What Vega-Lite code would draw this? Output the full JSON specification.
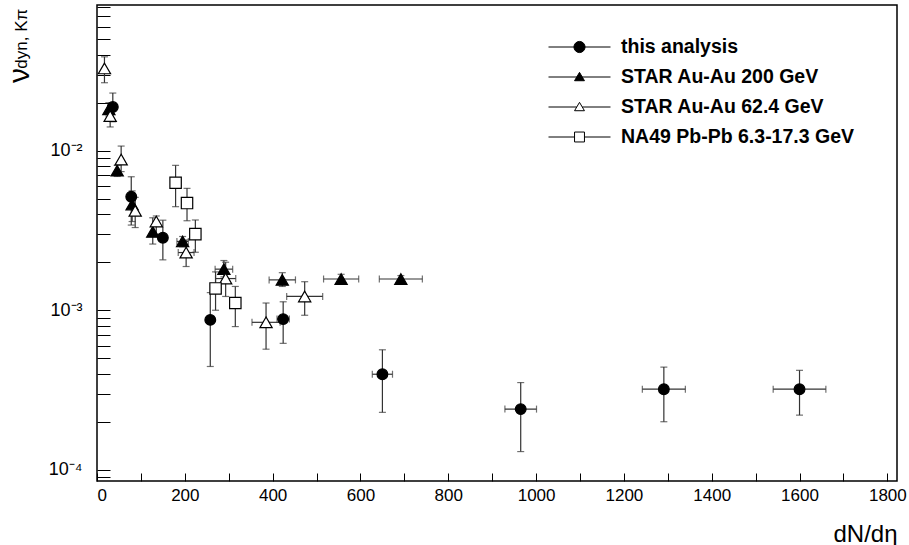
{
  "$schema": "https://vega.github.io/schema/vega-lite/v6.json",
  "width": 800,
  "height": 476,
  "autosize": {"type": "none"},
  "padding": {"left": 97, "top": 5, "right": 12, "bottom": 64},
  "background": "white",
  "config": {
    "view": {"stroke": "black", "strokeWidth": 1.5},
    "font": "Liberation Sans",
    "axisX": {
      "values": [0,50,100,150,200,250,300,350,400,450,500,550,600,650,700,750,800,850,900,950,1000,1050,1100,1150,1200,1250,1300,1350,1400,1450,1500,1550,1600,1650,1700,1750,1800],
      "format": "d",
      "labelExpr": "datum.value % 200 == 0 ? datum.label : ''",
      "labelOverlap": false,
      "labelFont": "Liberation Sans",
      "labelFontSize": 17,
      "labelColor": "black",
      "labelPadding": 6,
      "grid": false,
      "domain": false,
      "ticks": true,
      "offset": -8,
      "tickSize": 8,
      "tickColor": "black",
      "tickOpacity": 1,
      "tickWidth": 1,
      "zindex": 1,
      "titleFont": "Liberation Sans",
      "titleFontSize": 24,
      "titleFontWeight": "normal",
      "titleColor": "black",
      "titleX": 800,
      "titleY": 68,
      "titleAlign": "right",
      "titleBaseline": "alphabetic"
    },
    "axisY": {
      "values": [0.0001,0.0002,0.0003,0.0004,0.0005,0.0006,0.0007,0.0008,0.0009,0.001,0.002,0.003,0.004,0.005,0.006,0.007,0.008,0.009,0.01,0.02,0.03,0.04,0.05,0.06,0.07,0.08],
      "labelExpr": "datum.value == 0.01 ? '10⁻²' : datum.value == 0.001 ? '10⁻³' : datum.value == 0.0001 ? '10⁻⁴' : ''",
      "labelOverlap": false,
      "labelFont": "Liberation Sans",
      "labelFontSize": 18,
      "labelColor": "black",
      "labelPadding": 15,
      "grid": false,
      "domain": false,
      "ticks": true,
      "offset": -13,
      "tickSize": 13,
      "tickColor": "black",
      "tickOpacity": 1,
      "tickWidth": 1,
      "zindex": 1,
      "titleFont": "Liberation Sans",
      "titleFontSize": 30,
      "titleFontWeight": "normal",
      "titleColor": "black",
      "titleAngle": 270,
      "titleX": -91,
      "titleY": 70,
      "titleAlign": "center",
      "titleBaseline": "middle"
    }
  },
  "title": {
    "text": "dyn, Kπ",
    "orient": "left",
    "anchor": "end",
    "fontSize": 17,
    "fontWeight": "normal",
    "font": "Liberation Sans",
    "color": "black",
    "offset": 0,
    "dy": 27,
    "dx": -11
  },
  "data": {
    "values": [
      {"s": "this analysis", "x": 36, "y": 0.0188, "xlo": 36, "xhi": 36, "ylo": 0.0152, "yhi": 0.0230},
      {"s": "this analysis", "x": 78, "y": 0.00515, "xlo": 78, "xhi": 78, "ylo": 0.00342, "yhi": 0.00687},
      {"s": "this analysis", "x": 150, "y": 0.00285, "xlo": 150, "xhi": 150, "ylo": 0.00207, "yhi": 0.00367},
      {"s": "this analysis", "x": 258, "y": 0.00087, "xlo": 258, "xhi": 258, "ylo": 0.000444, "yhi": 0.00129},
      {"s": "this analysis", "x": 424, "y": 0.00088, "xlo": 410, "xhi": 438, "ylo": 0.00062, "yhi": 0.00113},
      {"s": "this analysis", "x": 650, "y": 0.000397, "xlo": 627, "xhi": 673, "ylo": 0.000229, "yhi": 0.000565},
      {"s": "this analysis", "x": 965, "y": 0.00024, "xlo": 929, "xhi": 1001, "ylo": 0.00013, "yhi": 0.000352},
      {"s": "this analysis", "x": 1291, "y": 0.00032, "xlo": 1242, "xhi": 1340, "ylo": 0.0002, "yhi": 0.00044},
      {"s": "this analysis", "x": 1600, "y": 0.00032, "xlo": 1540, "xhi": 1660, "ylo": 0.00022, "yhi": 0.00042},
      {"s": "STAR Au-Au 200 GeV", "x": 27, "y": 0.0182, "xlo": 27, "xhi": 27, "ylo": 0.0165, "yhi": 0.0200},
      {"s": "STAR Au-Au 200 GeV", "x": 46, "y": 0.0075, "xlo": 46, "xhi": 46, "ylo": 0.0069, "yhi": 0.0081},
      {"s": "STAR Au-Au 200 GeV", "x": 80, "y": 0.0046, "xlo": 80, "xhi": 80, "ylo": 0.0036, "yhi": 0.0056},
      {"s": "STAR Au-Au 200 GeV", "x": 127, "y": 0.0031, "xlo": 127, "xhi": 127, "ylo": 0.0026, "yhi": 0.0038},
      {"s": "STAR Au-Au 200 GeV", "x": 195, "y": 0.0027, "xlo": 182, "xhi": 208, "ylo": 0.0025, "yhi": 0.0029},
      {"s": "STAR Au-Au 200 GeV", "x": 289, "y": 0.00181, "xlo": 269, "xhi": 309, "ylo": 0.00162, "yhi": 0.00205},
      {"s": "STAR Au-Au 200 GeV", "x": 422, "y": 0.00155, "xlo": 392, "xhi": 452, "ylo": 0.00141, "yhi": 0.00172},
      {"s": "STAR Au-Au 200 GeV", "x": 556, "y": 0.00157, "xlo": 516, "xhi": 596, "ylo": 0.00147, "yhi": 0.00168},
      {"s": "STAR Au-Au 200 GeV", "x": 692, "y": 0.00157, "xlo": 643, "xhi": 741, "ylo": 0.0015, "yhi": 0.00165},
      {"s": "STAR Au-Au 62.4 GeV", "x": 17, "y": 0.0328, "xlo": 17, "xhi": 17, "ylo": 0.0267, "yhi": 0.0388},
      {"s": "STAR Au-Au 62.4 GeV", "x": 30, "y": 0.0165, "xlo": 30, "xhi": 30, "ylo": 0.0141, "yhi": 0.0185},
      {"s": "STAR Au-Au 62.4 GeV", "x": 55, "y": 0.0088, "xlo": 55, "xhi": 55, "ylo": 0.0074, "yhi": 0.0107},
      {"s": "STAR Au-Au 62.4 GeV", "x": 87, "y": 0.0042, "xlo": 87, "xhi": 87, "ylo": 0.0033, "yhi": 0.0051},
      {"s": "STAR Au-Au 62.4 GeV", "x": 135, "y": 0.0036, "xlo": 135, "xhi": 135, "ylo": 0.0030, "yhi": 0.0039},
      {"s": "STAR Au-Au 62.4 GeV", "x": 203, "y": 0.0023, "xlo": 185, "xhi": 221, "ylo": 0.00188, "yhi": 0.00276},
      {"s": "STAR Au-Au 62.4 GeV", "x": 293, "y": 0.00158, "xlo": 270, "xhi": 316, "ylo": 0.00122, "yhi": 0.0020},
      {"s": "STAR Au-Au 62.4 GeV", "x": 385, "y": 0.00084, "xlo": 353, "xhi": 417, "ylo": 0.00057, "yhi": 0.00111},
      {"s": "STAR Au-Au 62.4 GeV", "x": 473, "y": 0.00122, "xlo": 432, "xhi": 514, "ylo": 0.00093, "yhi": 0.00151},
      {"s": "NA49 Pb-Pb 6.3-17.3 GeV", "x": 179, "y": 0.0063, "xlo": 179, "xhi": 179, "ylo": 0.00446, "yhi": 0.0081},
      {"s": "NA49 Pb-Pb 6.3-17.3 GeV", "x": 205, "y": 0.0047, "xlo": 205, "xhi": 205, "ylo": 0.00364, "yhi": 0.00581},
      {"s": "NA49 Pb-Pb 6.3-17.3 GeV", "x": 224, "y": 0.0030, "xlo": 224, "xhi": 224, "ylo": 0.00231, "yhi": 0.00368},
      {"s": "NA49 Pb-Pb 6.3-17.3 GeV", "x": 270, "y": 0.00137, "xlo": 270, "xhi": 270, "ylo": 0.0010, "yhi": 0.00174},
      {"s": "NA49 Pb-Pb 6.3-17.3 GeV", "x": 315, "y": 0.00111, "xlo": 315, "xhi": 315, "ylo": 0.00079, "yhi": 0.00141}
    ]
  },
  "layer": [
    {
      "mark": {"type": "rule", "color": "#333333", "strokeWidth": 1.2},
      "encoding": {
        "x": {"field": "x", "type": "quantitative", "title": "dN/dη",
          "scale": {"domain": [0, 1822], "nice": false, "zero": false}},
        "y": {"field": "ylo", "type": "quantitative", "title": "ν",
          "scale": {"type": "log", "domain": [0.000085, 0.082], "nice": false}},
        "y2": {"field": "yhi"}
      }
    },
    {
      "transform": [{"fold": ["ylo", "yhi"], "as": ["k", "v"]}],
      "mark": {"type": "tick", "orient": "horizontal", "color": "#333333", "size": 7, "thickness": 1.2},
      "encoding": {
        "x": {"field": "x", "type": "quantitative", "title": "dN/dη"},
        "y": {"field": "v", "type": "quantitative", "title": "ν"}
      }
    },
    {
      "transform": [{"filter": "datum.xhi > datum.xlo"}],
      "mark": {"type": "rule", "color": "#333333", "strokeWidth": 1.2},
      "encoding": {
        "x": {"field": "xlo", "type": "quantitative", "title": "dN/dη"},
        "x2": {"field": "xhi"},
        "y": {"field": "y", "type": "quantitative", "title": "ν"}
      }
    },
    {
      "transform": [{"filter": "datum.xhi > datum.xlo"}, {"fold": ["xlo", "xhi"], "as": ["k", "v"]}],
      "mark": {"type": "tick", "orient": "vertical", "color": "#333333", "size": 7, "thickness": 1.2},
      "encoding": {
        "x": {"field": "v", "type": "quantitative", "title": "dN/dη"},
        "y": {"field": "y", "type": "quantitative", "title": "ν"}
      }
    },
    {
      "transform": [{"filter": "datum.s == 'this analysis'"}],
      "mark": {"type": "point", "shape": "circle", "filled": true, "fill": "black", "opacity": 1, "stroke": "black", "strokeWidth": 1.2, "size": 115},
      "encoding": {
        "x": {"field": "x", "type": "quantitative", "title": "dN/dη"},
        "y": {"field": "y", "type": "quantitative", "title": "ν"}
      }
    },
    {
      "transform": [{"filter": "datum.s == 'STAR Au-Au 200 GeV'"}],
      "mark": {"type": "point", "shape": "triangle-up", "filled": true, "fill": "black", "opacity": 1, "stroke": "black", "strokeWidth": 1.2, "size": 150},
      "encoding": {
        "x": {"field": "x", "type": "quantitative", "title": "dN/dη"},
        "y": {"field": "y", "type": "quantitative", "title": "ν"}
      }
    },
    {
      "transform": [{"filter": "datum.s == 'STAR Au-Au 62.4 GeV'"}],
      "mark": {"type": "point", "shape": "triangle-up", "filled": true, "fill": "white", "opacity": 1, "stroke": "black", "strokeWidth": 1.2, "size": 150},
      "encoding": {
        "x": {"field": "x", "type": "quantitative", "title": "dN/dη"},
        "y": {"field": "y", "type": "quantitative", "title": "ν"}
      }
    },
    {
      "transform": [{"filter": "datum.s == 'NA49 Pb-Pb 6.3-17.3 GeV'"}],
      "mark": {"type": "point", "shape": "square", "filled": true, "fill": "white", "opacity": 1, "stroke": "black", "strokeWidth": 1.2, "size": 130},
      "encoding": {
        "x": {"field": "x", "type": "quantitative", "title": "dN/dη"},
        "y": {"field": "y", "type": "quantitative", "title": "ν"}
      }
    },
    {
      "transform": [{"filter": "datum.x < 0"}],
      "mark": {"type": "point", "filled": true, "opacity": 1, "strokeWidth": 1},
      "encoding": {
        "shape": {
          "field": "s", "type": "nominal",
          "scale": {
            "domain": ["this analysis", "STAR Au-Au 200 GeV", "STAR Au-Au 62.4 GeV", "NA49 Pb-Pb 6.3-17.3 GeV"],
            "range": [
              "M-1,0L1,0M0.18,0L0.166,0.069L0.127,0.127L0.069,0.166L0,0.18L-0.069,0.166L-0.127,0.127L-0.166,0.069L-0.18,0L-0.166,-0.069L-0.127,-0.127L-0.069,-0.166L0,-0.18L0.069,-0.166L0.127,-0.127L0.166,-0.069Z",
              "M-1,0L1,0M0,-0.15L0.16,0.12L-0.16,0.12Z",
              "M-1,0L-0.09,0M0.09,0L1,0M0,-0.15L0.16,0.12L-0.16,0.12Z",
              "M-1,0L-0.16,0M0.16,0L1,0M-0.16,-0.16L0.16,-0.16L0.16,0.16L-0.16,0.16Z"
            ]
          },
          "legend": {
            "title": null, "orient": "none", "legendX": 451, "legendY": 27, "padding": 0,
            "labelFont": "Liberation Sans", "labelFontWeight": "bold", "labelFontSize": 19.5, "labelColor": "black",
            "labelOffset": 10, "symbolSize": 3844, "clipHeight": 30, "rowPadding": 0,
            "symbolStrokeWidth": 1, "labelLimit": 400
          }
        },
        "fill": {
          "field": "s", "type": "nominal",
          "scale": {"domain": ["this analysis", "STAR Au-Au 200 GeV", "STAR Au-Au 62.4 GeV", "NA49 Pb-Pb 6.3-17.3 GeV"], "range": ["black", "black", "white", "white"]},
          "legend": {
            "title": null, "orient": "none", "legendX": 451, "legendY": 27, "padding": 0,
            "labelFont": "Liberation Sans", "labelFontWeight": "bold", "labelFontSize": 19.5, "labelColor": "black",
            "labelOffset": 10, "symbolSize": 3844, "clipHeight": 30, "rowPadding": 0,
            "symbolStrokeWidth": 1, "labelLimit": 400
          }
        },
        "stroke": {
          "field": "s", "type": "nominal",
          "scale": {"domain": ["this analysis", "STAR Au-Au 200 GeV", "STAR Au-Au 62.4 GeV", "NA49 Pb-Pb 6.3-17.3 GeV"], "range": ["black", "black", "black", "black"]},
          "legend": {
            "title": null, "orient": "none", "legendX": 451, "legendY": 27, "padding": 0,
            "labelFont": "Liberation Sans", "labelFontWeight": "bold", "labelFontSize": 19.5, "labelColor": "black",
            "labelOffset": 10, "symbolSize": 3844, "clipHeight": 30, "rowPadding": 0,
            "symbolStrokeWidth": 1, "labelLimit": 400
          }
        }
      }
    }
  ]
}
